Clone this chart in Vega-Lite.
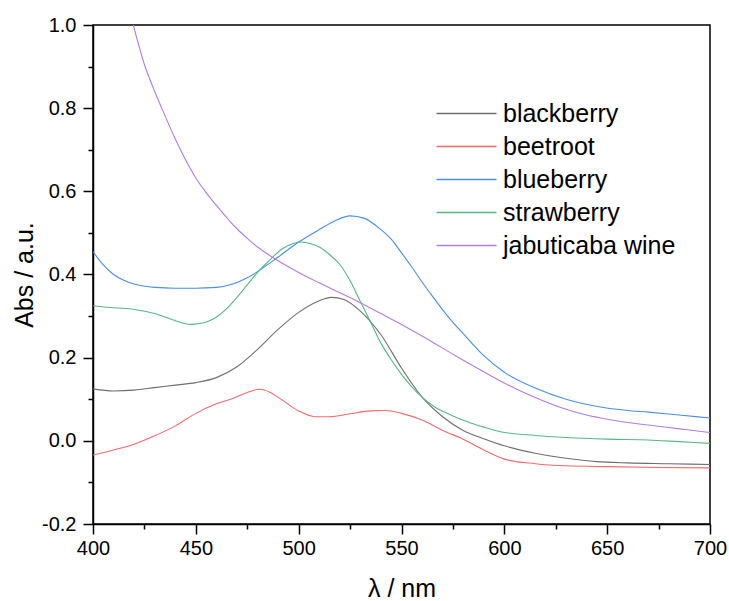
{
  "$schema": "https://vega.github.io/schema/vega-lite/v6.json",
  "width": 617,
  "height": 499,
  "autosize": {"type": "none"},
  "padding": {"left": 93, "top": 25, "right": 19, "bottom": 77},
  "background": "white",
  "config": {
    "font": "Liberation Sans",
    "view": {"stroke": "black", "strokeWidth": 1.5}
  },
  "datasets": {
    "spectra": [
      {"sample": "blackberry", "wl": 400, "abs": 0.125},
      {"sample": "blackberry", "wl": 410, "abs": 0.120},
      {"sample": "blackberry", "wl": 420, "abs": 0.122},
      {"sample": "blackberry", "wl": 430, "abs": 0.128},
      {"sample": "blackberry", "wl": 440, "abs": 0.134},
      {"sample": "blackberry", "wl": 450, "abs": 0.140},
      {"sample": "blackberry", "wl": 460, "abs": 0.152},
      {"sample": "blackberry", "wl": 470, "abs": 0.178},
      {"sample": "blackberry", "wl": 480, "abs": 0.220},
      {"sample": "blackberry", "wl": 490, "abs": 0.268},
      {"sample": "blackberry", "wl": 500, "abs": 0.309},
      {"sample": "blackberry", "wl": 510, "abs": 0.337},
      {"sample": "blackberry", "wl": 516, "abs": 0.345},
      {"sample": "blackberry", "wl": 522, "abs": 0.340},
      {"sample": "blackberry", "wl": 530, "abs": 0.312},
      {"sample": "blackberry", "wl": 540, "abs": 0.255},
      {"sample": "blackberry", "wl": 550, "abs": 0.175},
      {"sample": "blackberry", "wl": 560, "abs": 0.105},
      {"sample": "blackberry", "wl": 570, "abs": 0.058},
      {"sample": "blackberry", "wl": 580, "abs": 0.025},
      {"sample": "blackberry", "wl": 590, "abs": 0.005},
      {"sample": "blackberry", "wl": 600, "abs": -0.012},
      {"sample": "blackberry", "wl": 615, "abs": -0.030},
      {"sample": "blackberry", "wl": 630, "abs": -0.042},
      {"sample": "blackberry", "wl": 645, "abs": -0.050},
      {"sample": "blackberry", "wl": 660, "abs": -0.053},
      {"sample": "blackberry", "wl": 680, "abs": -0.055},
      {"sample": "blackberry", "wl": 700, "abs": -0.057},

      {"sample": "beetroot", "wl": 400, "abs": -0.034},
      {"sample": "beetroot", "wl": 410, "abs": -0.022},
      {"sample": "beetroot", "wl": 420, "abs": -0.008},
      {"sample": "beetroot", "wl": 430, "abs": 0.012},
      {"sample": "beetroot", "wl": 440, "abs": 0.036},
      {"sample": "beetroot", "wl": 450, "abs": 0.066},
      {"sample": "beetroot", "wl": 460, "abs": 0.089},
      {"sample": "beetroot", "wl": 468, "abs": 0.102},
      {"sample": "beetroot", "wl": 475, "abs": 0.116},
      {"sample": "beetroot", "wl": 481, "abs": 0.124},
      {"sample": "beetroot", "wl": 486, "abs": 0.117},
      {"sample": "beetroot", "wl": 492, "abs": 0.098},
      {"sample": "beetroot", "wl": 500, "abs": 0.072},
      {"sample": "beetroot", "wl": 508, "abs": 0.058},
      {"sample": "beetroot", "wl": 515, "abs": 0.058},
      {"sample": "beetroot", "wl": 525, "abs": 0.065},
      {"sample": "beetroot", "wl": 535, "abs": 0.072},
      {"sample": "beetroot", "wl": 542, "abs": 0.073},
      {"sample": "beetroot", "wl": 550, "abs": 0.066},
      {"sample": "beetroot", "wl": 560, "abs": 0.050},
      {"sample": "beetroot", "wl": 570, "abs": 0.025},
      {"sample": "beetroot", "wl": 580, "abs": 0.004},
      {"sample": "beetroot", "wl": 590, "abs": -0.022},
      {"sample": "beetroot", "wl": 600, "abs": -0.044},
      {"sample": "beetroot", "wl": 615, "abs": -0.055},
      {"sample": "beetroot", "wl": 630, "abs": -0.060},
      {"sample": "beetroot", "wl": 650, "abs": -0.062},
      {"sample": "beetroot", "wl": 675, "abs": -0.064},
      {"sample": "beetroot", "wl": 700, "abs": -0.065},

      {"sample": "blueberry", "wl": 400, "abs": 0.455},
      {"sample": "blueberry", "wl": 405, "abs": 0.423},
      {"sample": "blueberry", "wl": 410, "abs": 0.400},
      {"sample": "blueberry", "wl": 415, "abs": 0.386},
      {"sample": "blueberry", "wl": 420, "abs": 0.377},
      {"sample": "blueberry", "wl": 430, "abs": 0.369},
      {"sample": "blueberry", "wl": 440, "abs": 0.367},
      {"sample": "blueberry", "wl": 450, "abs": 0.367},
      {"sample": "blueberry", "wl": 460, "abs": 0.369},
      {"sample": "blueberry", "wl": 468, "abs": 0.377},
      {"sample": "blueberry", "wl": 475, "abs": 0.392},
      {"sample": "blueberry", "wl": 480, "abs": 0.407},
      {"sample": "blueberry", "wl": 490, "abs": 0.442},
      {"sample": "blueberry", "wl": 500, "abs": 0.478},
      {"sample": "blueberry", "wl": 510, "abs": 0.508},
      {"sample": "blueberry", "wl": 518, "abs": 0.530},
      {"sample": "blueberry", "wl": 525, "abs": 0.541},
      {"sample": "blueberry", "wl": 532, "abs": 0.535},
      {"sample": "blueberry", "wl": 540, "abs": 0.508},
      {"sample": "blueberry", "wl": 545, "abs": 0.485},
      {"sample": "blueberry", "wl": 550, "abs": 0.452},
      {"sample": "blueberry", "wl": 555, "abs": 0.418},
      {"sample": "blueberry", "wl": 560, "abs": 0.382},
      {"sample": "blueberry", "wl": 565, "abs": 0.348},
      {"sample": "blueberry", "wl": 570, "abs": 0.315},
      {"sample": "blueberry", "wl": 575, "abs": 0.285},
      {"sample": "blueberry", "wl": 580, "abs": 0.258},
      {"sample": "blueberry", "wl": 590, "abs": 0.205},
      {"sample": "blueberry", "wl": 600, "abs": 0.165},
      {"sample": "blueberry", "wl": 615, "abs": 0.127},
      {"sample": "blueberry", "wl": 630, "abs": 0.100},
      {"sample": "blueberry", "wl": 646, "abs": 0.082},
      {"sample": "blueberry", "wl": 660, "abs": 0.073},
      {"sample": "blueberry", "wl": 670, "abs": 0.069},
      {"sample": "blueberry", "wl": 685, "abs": 0.062},
      {"sample": "blueberry", "wl": 700, "abs": 0.055},

      {"sample": "strawberry", "wl": 400, "abs": 0.325},
      {"sample": "strawberry", "wl": 410, "abs": 0.320},
      {"sample": "strawberry", "wl": 420, "abs": 0.316},
      {"sample": "strawberry", "wl": 430, "abs": 0.306},
      {"sample": "strawberry", "wl": 440, "abs": 0.289},
      {"sample": "strawberry", "wl": 447, "abs": 0.280},
      {"sample": "strawberry", "wl": 452, "abs": 0.282},
      {"sample": "strawberry", "wl": 460, "abs": 0.298},
      {"sample": "strawberry", "wl": 465, "abs": 0.318},
      {"sample": "strawberry", "wl": 470, "abs": 0.345},
      {"sample": "strawberry", "wl": 475, "abs": 0.375},
      {"sample": "strawberry", "wl": 480, "abs": 0.405},
      {"sample": "strawberry", "wl": 485, "abs": 0.430},
      {"sample": "strawberry", "wl": 492, "abs": 0.462},
      {"sample": "strawberry", "wl": 497, "abs": 0.474},
      {"sample": "strawberry", "wl": 501, "abs": 0.478},
      {"sample": "strawberry", "wl": 506, "abs": 0.474},
      {"sample": "strawberry", "wl": 510, "abs": 0.466},
      {"sample": "strawberry", "wl": 515, "abs": 0.448},
      {"sample": "strawberry", "wl": 520, "abs": 0.424},
      {"sample": "strawberry", "wl": 525, "abs": 0.385},
      {"sample": "strawberry", "wl": 530, "abs": 0.335},
      {"sample": "strawberry", "wl": 535, "abs": 0.285},
      {"sample": "strawberry", "wl": 540, "abs": 0.235},
      {"sample": "strawberry", "wl": 545, "abs": 0.195},
      {"sample": "strawberry", "wl": 550, "abs": 0.160},
      {"sample": "strawberry", "wl": 555, "abs": 0.130},
      {"sample": "strawberry", "wl": 560, "abs": 0.105},
      {"sample": "strawberry", "wl": 566, "abs": 0.082},
      {"sample": "strawberry", "wl": 575, "abs": 0.060},
      {"sample": "strawberry", "wl": 582, "abs": 0.046},
      {"sample": "strawberry", "wl": 590, "abs": 0.033},
      {"sample": "strawberry", "wl": 598, "abs": 0.022},
      {"sample": "strawberry", "wl": 615, "abs": 0.013},
      {"sample": "strawberry", "wl": 630, "abs": 0.008},
      {"sample": "strawberry", "wl": 650, "abs": 0.004},
      {"sample": "strawberry", "wl": 670, "abs": 0.002},
      {"sample": "strawberry", "wl": 685, "abs": -0.002},
      {"sample": "strawberry", "wl": 700, "abs": -0.006},

      {"sample": "jabuticaba wine", "wl": 419.6, "abs": 1.0},
      {"sample": "jabuticaba wine", "wl": 425, "abs": 0.905},
      {"sample": "jabuticaba wine", "wl": 430, "abs": 0.840},
      {"sample": "jabuticaba wine", "wl": 435, "abs": 0.782},
      {"sample": "jabuticaba wine", "wl": 440, "abs": 0.726},
      {"sample": "jabuticaba wine", "wl": 445, "abs": 0.676},
      {"sample": "jabuticaba wine", "wl": 450, "abs": 0.632},
      {"sample": "jabuticaba wine", "wl": 455, "abs": 0.597},
      {"sample": "jabuticaba wine", "wl": 460, "abs": 0.566},
      {"sample": "jabuticaba wine", "wl": 465, "abs": 0.537},
      {"sample": "jabuticaba wine", "wl": 470, "abs": 0.510},
      {"sample": "jabuticaba wine", "wl": 475, "abs": 0.487},
      {"sample": "jabuticaba wine", "wl": 480, "abs": 0.466},
      {"sample": "jabuticaba wine", "wl": 490, "abs": 0.433},
      {"sample": "jabuticaba wine", "wl": 500, "abs": 0.405},
      {"sample": "jabuticaba wine", "wl": 510, "abs": 0.380},
      {"sample": "jabuticaba wine", "wl": 520, "abs": 0.356},
      {"sample": "jabuticaba wine", "wl": 530, "abs": 0.332},
      {"sample": "jabuticaba wine", "wl": 540, "abs": 0.306},
      {"sample": "jabuticaba wine", "wl": 550, "abs": 0.280},
      {"sample": "jabuticaba wine", "wl": 560, "abs": 0.252},
      {"sample": "jabuticaba wine", "wl": 570, "abs": 0.223},
      {"sample": "jabuticaba wine", "wl": 580, "abs": 0.194},
      {"sample": "jabuticaba wine", "wl": 590, "abs": 0.166},
      {"sample": "jabuticaba wine", "wl": 600, "abs": 0.139},
      {"sample": "jabuticaba wine", "wl": 610, "abs": 0.115},
      {"sample": "jabuticaba wine", "wl": 620, "abs": 0.094},
      {"sample": "jabuticaba wine", "wl": 630, "abs": 0.076},
      {"sample": "jabuticaba wine", "wl": 640, "abs": 0.062},
      {"sample": "jabuticaba wine", "wl": 650, "abs": 0.052},
      {"sample": "jabuticaba wine", "wl": 660, "abs": 0.044},
      {"sample": "jabuticaba wine", "wl": 670, "abs": 0.038},
      {"sample": "jabuticaba wine", "wl": 680, "abs": 0.032},
      {"sample": "jabuticaba wine", "wl": 690, "abs": 0.026},
      {"sample": "jabuticaba wine", "wl": 700, "abs": 0.020}
    ]
  },
  "data": {"name": "spectra"},
  "mark": {"type": "line", "interpolate": "monotone", "strokeWidth": 1.1, "clip": true},
  "encoding": {
    "x": {
      "field": "wl",
      "type": "quantitative",
      "scale": {"domain": [400, 700], "nice": false, "zero": false},
      "axis": {
        "title": "λ / nm",
        "titleFontSize": 25,
        "titleFontWeight": "normal",
        "titleColor": "black",
        "titlePadding": 18,
        "values": [400, 425, 450, 475, 500, 525, 550, 575, 600, 625, 650, 675, 700],
        "labelExpr": "datum.value % 50 === 0 ? datum.label : ''",
        "labelFontSize": 20,
        "labelColor": "black",
        "labelPadding": 4,
        "labelFlush": false,
        "labelOverlap": false,
        "tickSize": {"condition": {"test": "datum.value % 50 === 0", "value": 10}, "value": 5},
        "tickColor": "black",
        "tickWidth": 1.5,
        "domainColor": "black",
        "domainWidth": 1.5,
        "grid": false
      }
    },
    "y": {
      "field": "abs",
      "type": "quantitative",
      "scale": {"domain": [-0.2, 1.0], "nice": false, "zero": false},
      "axis": {
        "title": "Abs / a.u.",
        "titleFontSize": 25,
        "titleFontWeight": "normal",
        "titleColor": "black",
        "titlePadding": 4,
        "values": [-0.2, -0.1, 0, 0.1, 0.2, 0.3, 0.4, 0.5, 0.6, 0.7, 0.8, 0.9, 1.0],
        "labelExpr": "abs(round(datum.value * 10)) % 2 === 0 ? replace(format(datum.value, '.1f'), '\u2212', '-') : ''",
        "labelFontSize": 20,
        "labelColor": "black",
        "labelPadding": 7,
        "labelFlush": false,
        "labelOverlap": false,
        "tickSize": {"condition": {"test": "abs(round(datum.value * 10)) % 2 === 0", "value": 10}, "value": 5},
        "tickColor": "black",
        "tickWidth": 1.5,
        "domainColor": "black",
        "domainWidth": 1.5,
        "grid": false
      }
    },
    "color": {
      "field": "sample",
      "type": "nominal",
      "sort": ["blackberry", "beetroot", "blueberry", "strawberry", "jabuticaba wine"],
      "scale": {
        "domain": ["blackberry", "beetroot", "blueberry", "strawberry", "jabuticaba wine"],
        "range": ["#6e6e6e", "#f46a6a", "#4a8ee6", "#55b983", "#b27ce9"]
      },
      "legend": {
        "title": null,
        "orient": "none",
        "legendX": 361,
        "legendY": 76,
        "padding": 0,
        "symbolType": "M-3,0H3",
        "symbolSize": 400,
        "symbolStrokeWidth": 1.3,
        "labelFontSize": 25,
        "labelColor": "black",
        "labelOffset": 24,
        "rowPadding": 7,
        "labelLimit": 300
      }
    }
  }
}
